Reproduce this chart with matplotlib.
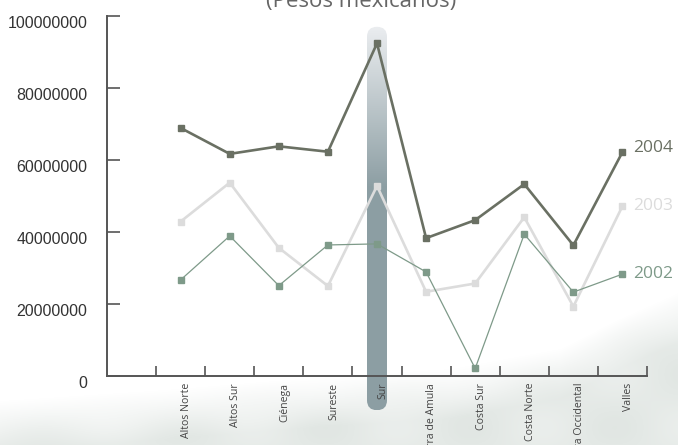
import numpy as np
import matplotlib
matplotlib.use("Agg")
import matplotlib.pyplot as plt
from matplotlib.patches import FancyBboxPatch

# Datos del grafico (pesos mexicanos)
regiones = ['Altos Norte', 'Altos Sur', 'Ciénega', 'Sureste', 'Sur',
            'Sierra de Amula', 'Costa Sur', 'Costa Norte', 'Sierra Occidental', 'Valles']
valores_2004 = [68.9e6, 61.7e6, 63.8e6, 62.3e6, 92.4e6, 38.3e6, 43.3e6, 53.3e6, 36.3e6, 62.2e6]
valores_2003 = [42.9e6, 53.7e6, 35.6e6, 25.0e6, 52.8e6, 23.4e6, 25.7e6, 44.1e6, 19.3e6, 47.2e6]
valores_2002 = [26.7e6, 38.9e6, 25.1e6, 36.4e6, 36.7e6, 28.9e6, 2.1e6, 39.4e6, 23.3e6, 28.3e6]
anios = ['2004', '2003', '2002']
region_destacada = 'Sur'
y_ticks = [0, 20000000, 40000000, 60000000, 80000000, 100000000]

c2004 = '#6a7063'
c2003 = '#dcdcdc'
c2002 = '#7e9a89'
c_eje = '#555555'

W, H = 678, 445
fig = plt.figure(figsize=(W / 100, H / 100), dpi=100)
fig.patch.set_facecolor('white')

# Fondo (neblina / montanas difusas en la parte baja)
ax_bg = fig.add_axes([0, 0, 1, 1], zorder=0)
ax_bg.set_xlim(0, W)
ax_bg.set_ylim(H, 0)
ax_bg.axis('off')
xx = np.arange(W)
yy = np.arange(H)
horizonte = np.interp(xx, [0, 150, 300, 450, 560, 620, 678], [400, 390, 378, 368, 348, 318, 292])
alfa = np.clip((yy[:, None] - horizonte[None, :]) / 50.0, 0, 1) * 0.42
ondas = 0.5 + 0.5 * np.sin(xx[None, :] / 23.0) * np.cos(yy[:, None] / 17.0)
alfa = alfa * (0.7 + 0.3 * ondas)
fondo = np.zeros((H, W, 4))
fondo[..., 0] = 0.72
fondo[..., 1] = 0.77
fondo[..., 2] = 0.74
fondo[..., 3] = alfa
ax_bg.imshow(fondo, extent=(0, W, H, 0), aspect='auto', interpolation='bilinear')

# Ejes principales
x = np.arange(len(regiones))
ax = fig.add_axes([107 / W, (H - 376) / H, 540 / W, 360 / H], zorder=2)
ax.patch.set_alpha(0)
ax.set_xlim(-1.5, len(regiones) - 0.5)
ax.set_ylim(0, 100e6)

# Barra destacada con degradado (en pixeles, sobre el fondo)
i_sur = regiones.index(region_destacada)
cx, _ = ax.transData.transform((i_sur, 0))
_, y_top = ax.transData.transform((i_sur, 97e6))
_, y_bot = ax.transData.transform((i_sur, -9.5e6))
ancho = 20
x0 = cx - ancho / 2
top_px = H - y_top
bot_px = H - y_bot
barra = FancyBboxPatch((x0 + 10, top_px + 10), ancho - 20, bot_px - top_px - 20,
                       boxstyle='round,pad=10', facecolor='none', edgecolor='none',
                       transform=ax_bg.transData)
ax_bg.add_patch(barra)
n = 200
t = np.linspace(0, 1, n)
frac = np.clip(t / 0.42, 0, 1)
c_top = np.array([0.92, 0.93, 0.94])
c_mid = np.array([0.55, 0.62, 0.64])
grad = c_top[None, :] * (1 - frac[:, None]) + c_mid[None, :] * frac[:, None]
grad = np.repeat(grad[:, None, :], 4, axis=1)
im = ax_bg.imshow(grad, extent=(x0, x0 + ancho, bot_px, top_px), aspect='auto',
                  interpolation='bilinear')
im.set_clip_path(barra)

# Series
ax.plot(x, valores_2003, color=c2003, lw=1.9, marker='s', ms=5, zorder=3)
ax.plot(x, valores_2002, color=c2002, lw=0.9, marker='s', ms=5, zorder=4)
ax.plot(x, valores_2004, color=c2004, lw=1.9, marker='s', ms=5, zorder=5)

# Etiquetas de los anios al final de cada serie
for anio, vals, col, dy in zip(anios, [valores_2004, valores_2003, valores_2002],
                               [c2004, c2003, c2002], [1.2e6, 0, 0]):
    ax.annotate(anio, (x[-1], vals[-1] + dy), xytext=(8, 0), textcoords='offset points',
                ha='left', va='center', fontsize=12.5, color=col, family='Open Sans',
                annotation_clip=False)

# Ejes y marcas
for lado in ['top', 'right']:
    ax.spines[lado].set_visible(False)
for lado in ['left', 'bottom']:
    ax.spines[lado].set_color(c_eje)
    ax.spines[lado].set_linewidth(1.4)

ax.set_yticks(y_ticks)
ax.set_yticklabels([str(v) for v in y_ticks], family='Liberation Sans', fontsize=11.5, color='#333333')
ax.tick_params(axis='y', direction='in', length=9.5, width=1.2, color=c_eje, pad=14)
for lbl in ax.get_yticklabels():
    lbl.set_va('top')

ax.set_xticks(np.arange(-0.5, len(regiones), 1.0))
ax.set_xticklabels([])
ax.tick_params(axis='x', which='major', direction='in', length=7, width=1.2, color=c_eje)
ax.set_xticks(x + 0.12, minor=True)
ax.set_xticklabels(regiones, minor=True, rotation=90, fontsize=7.6, family='Open Sans', color='#444444')
ax.tick_params(axis='x', which='minor', length=0, pad=5)

# Titulo (cortado en el borde superior)
fig.text(361 / W, 1 - 2 / H, '(Pesos mexicanos)', ha='center', va='center',
         fontsize=16, color='#666666', family='Open Sans')

fig.savefig('out.png', dpi=100, facecolor='white')
